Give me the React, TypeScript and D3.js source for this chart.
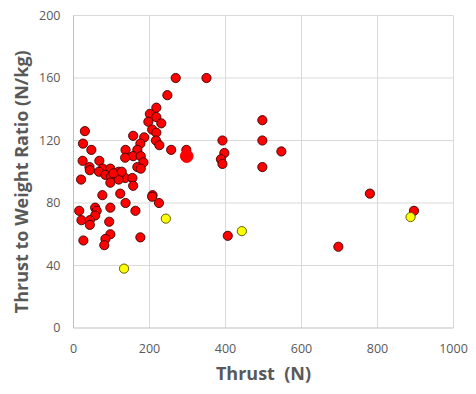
import React from 'react';
import * as d3 from 'd3';

// Thrust (N) vs thrust-to-weight ratio (N/kg)
const redThrust = [
  269, 247, 218, 201, 218, 231, 197, 207, 218, 30, 157, 186, 217, 25, 176, 226, 47, 168, 137, 257,
  297, 157, 177, 136, 24, 68, 184, 42, 168, 77, 97, 177, 67, 119, 84, 99, 136, 155, 119, 20,
  97, 157, 123, 76, 208, 207, 225, 137, 15, 57, 61, 97, 163, 57, 21, 43, 43, 94, 97, 84,
  81, 26, 176, 105, 127, 43,
  350, 497, 497, 392, 547, 397, 388, 392, 497, 406, 780, 896, 697,
];
const redRatio = [
  160, 149, 141, 137, 135, 131, 132, 127, 125, 126, 123, 122, 120, 118, 118, 117, 114, 114, 114, 114,
  114, 110, 110, 109, 107, 107, 106, 103, 103, 102, 102, 102, 100, 100, 98, 97, 96, 96, 95, 95,
  93, 91, 86, 85, 85, 84, 80, 80, 75, 77, 75, 77, 75, 72, 69, 69, 66, 68, 60, 57,
  53, 56, 58, 99, 100, 101,
  160, 133, 120, 120, 113, 112, 108, 105, 103, 59, 86, 75, 52,
];
const yellowThrust = [133, 243, 443, 887];
const yellowRatio = [38, 70, 62, 71];
const highlightThrust = [298];
const highlightRatio = [110];

const xTicks = [0, 200, 400, 600, 800, 1000];
const yTicks = [0, 40, 80, 120, 160, 200];

const W = 476;
const H = 394;
const margin = { left: 73.5, right: 22.5, top: 15.5, bottom: 66 };
const font = '"Open Sans", "Noto Sans", sans-serif';
const textColor = '#595959';

export default function App() {
  const x = d3.scaleLinear().domain([0, 1000]).range([margin.left, W - margin.right]);
  const y = d3.scaleLinear().domain([0, 200]).range([H - margin.bottom, margin.top]);

  const red = redThrust.map((t, i) => ({ t, r: redRatio[i] }));
  const yellow = yellowThrust.map((t, i) => ({ t, r: yellowRatio[i] }));
  const big = highlightThrust.map((t, i) => ({ t, r: highlightRatio[i] }));

  return (
    <svg
      width={W}
      height={H}
      style={{ position: 'absolute', left: 0, top: 0, background: '#fff' }}
    >
      {/* grid */}
      <g stroke="#d9d9d9" strokeWidth={1}>
        {xTicks.slice(1).map(t => (
          <line key={'gx' + t} x1={x(t)} x2={x(t)} y1={y(0)} y2={y(200)} />
        ))}
        {yTicks.slice(1).map(t => (
          <line key={'gy' + t} x1={x(0)} x2={x(1000)} y1={y(t)} y2={y(t)} />
        ))}
      </g>
      {/* axes */}
      <line x1={x(0)} x2={x(0)} y1={y(0)} y2={y(200)} stroke="#bfbfbf" />
      <line x1={x(0)} x2={x(1000)} y1={y(0)} y2={y(0)} stroke="#bfbfbf" />

      {/* tick labels */}
      <g fontFamily={font} fontSize={12.5} fill={textColor}>
        {yTicks.map(t => (
          <text key={'ty' + t} x={x(0) - 13} y={y(t)} dy="0.35em" textAnchor="end">
            {t}
          </text>
        ))}
        {xTicks.map(t => (
          <text key={'tx' + t} x={x(t)} y={y(0) + 25} textAnchor="middle">
            {t}
          </text>
        ))}
      </g>

      {/* points */}
      <g stroke="#3a0000" strokeWidth={0.9}>
        {red.map((d, i) => (
          <circle key={'r' + i} cx={x(d.t)} cy={y(d.r)} r={4.6} fill="#ff0000" />
        ))}
      </g>
      <g stroke="#4d4d00" strokeWidth={0.9}>
        {yellow.map((d, i) => (
          <circle key={'y' + i} cx={x(d.t)} cy={y(d.r)} r={4.6} fill="#ffff00" />
        ))}
      </g>
      <g stroke="#ff0000" strokeWidth={1}>
        {big.map((d, i) => (
          <circle key={'b' + i} cx={x(d.t)} cy={y(d.r)} r={6.3} fill="#ff0000" />
        ))}
      </g>

      {/* axis titles */}
      <text
        x={(x(0) + x(1000)) / 2}
        y={380}
        textAnchor="middle"
        fontFamily={font}
        fontSize={18}
        fontWeight="bold"
        fill={textColor}
        style={{ whiteSpace: 'pre' }}
      >
        {'Thrust  (N)'}
      </text>
      <text
        transform={`translate(28,${(y(0) + y(200)) / 2 + 10}) rotate(-90)`}
        textAnchor="middle"
        fontFamily={font}
        fontSize={18}
        fontWeight="bold"
        fill={textColor}
      >
        Thrust to Weight Ratio (N/kg)
      </text>
    </svg>
  );
}
